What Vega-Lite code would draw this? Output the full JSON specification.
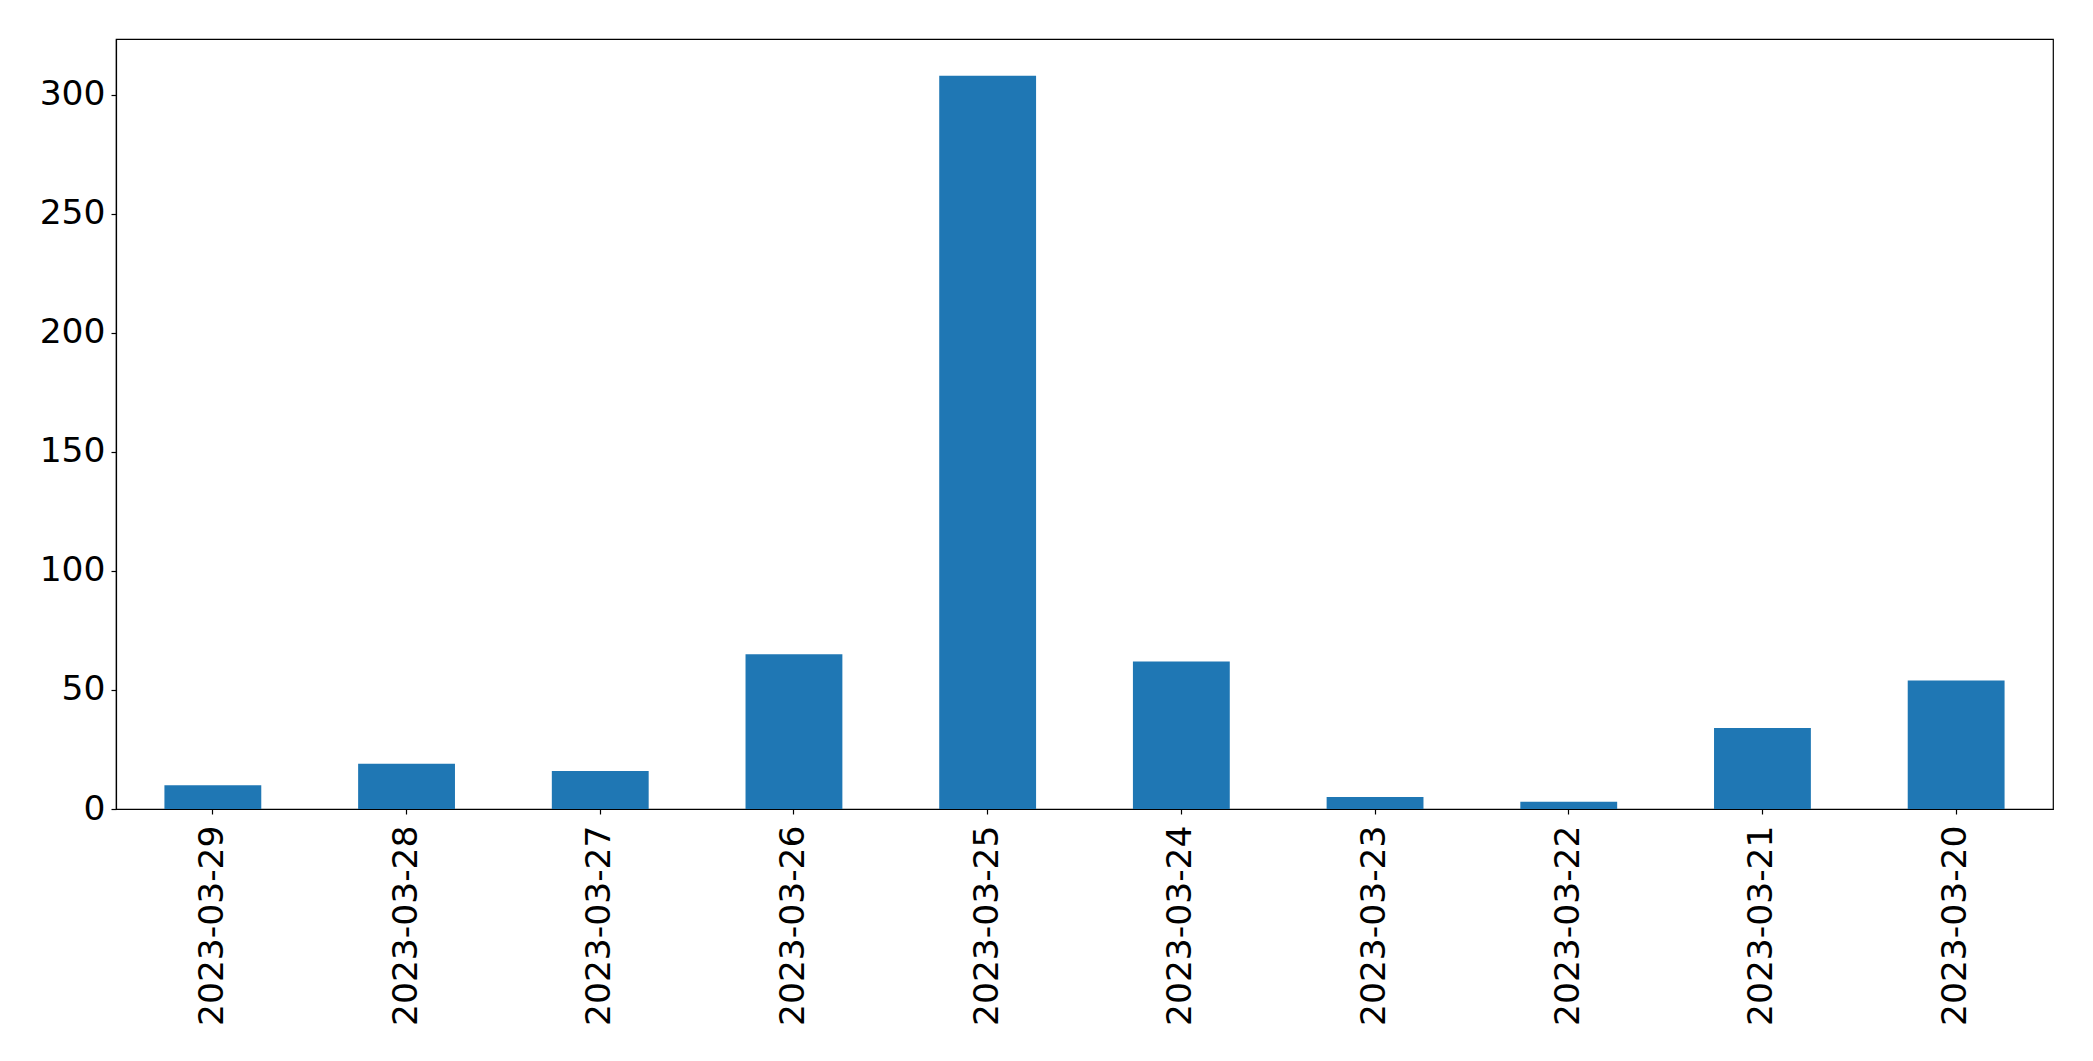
{
  "$schema": "https://vega.github.io/schema/vega-lite/v6.json",
  "width": 1937,
  "height": 770,
  "autosize": {"type": "none"},
  "padding": {"left": 116, "top": 39, "right": 40, "bottom": 252},
  "background": "white",
  "config": {
    "font": "DejaVu Sans",
    "view": {"stroke": "black", "strokeWidth": 1.2},
    "axis": {
      "domainColor": "black",
      "domainWidth": 1.2,
      "tickColor": "black",
      "tickWidth": 1.2,
      "tickSize": 5,
      "labelColor": "black",
      "labelFont": "DejaVu Sans",
      "labelFontSize": 34.5,
      "labelLimit": 0,
      "grid": false,
      "title": null
    }
  },
  "data": {
    "values": [
      {"date": "2023-03-29", "count": 10},
      {"date": "2023-03-28", "count": 19},
      {"date": "2023-03-27", "count": 16},
      {"date": "2023-03-26", "count": 65},
      {"date": "2023-03-25", "count": 308},
      {"date": "2023-03-24", "count": 62},
      {"date": "2023-03-23", "count": 5},
      {"date": "2023-03-22", "count": 3},
      {"date": "2023-03-21", "count": 34},
      {"date": "2023-03-20", "count": 54}
    ]
  },
  "mark": {"type": "bar", "color": "#1f77b4"},
  "encoding": {
    "x": {
      "field": "date",
      "type": "nominal",
      "sort": null,
      "scale": {"paddingInner": 0.5, "paddingOuter": 0.25},
      "axis": {"labelAngle": 270, "labelPadding": 11, "labelAlign": "right", "labelBaseline": "middle"}
    },
    "y": {
      "field": "count",
      "type": "quantitative",
      "scale": {"domain": [0, 323.4], "nice": false, "zero": true},
      "axis": {"values": [0, 50, 100, 150, 200, 250, 300], "labelPadding": 6}
    }
  }
}
